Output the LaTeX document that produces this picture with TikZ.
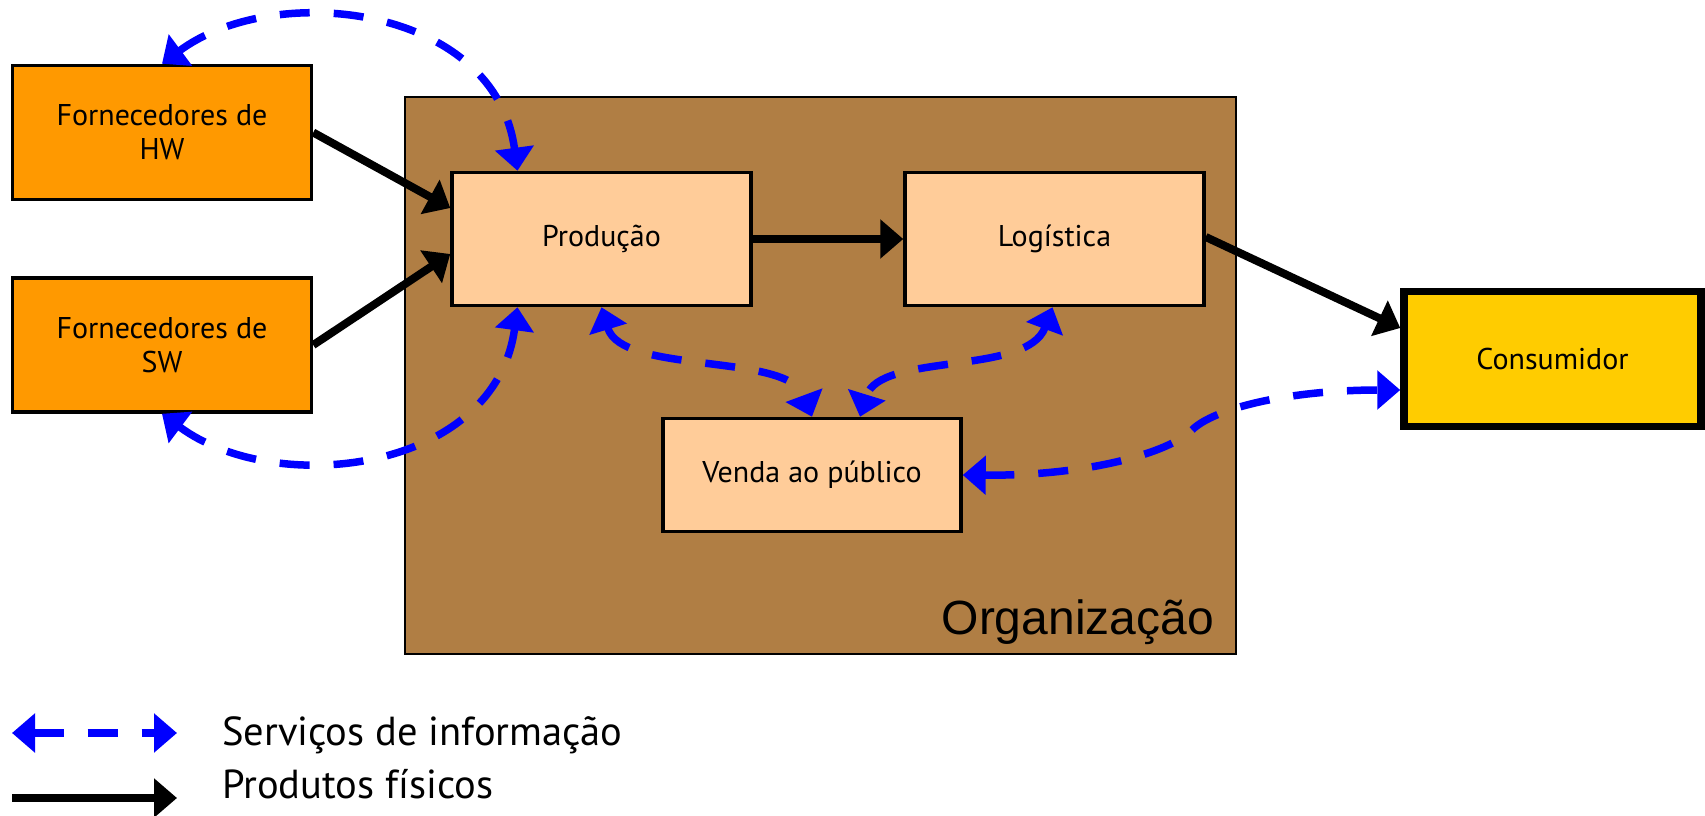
\documentclass[tikz,border=0pt]{standalone}
\usepackage{fontspec}
\setmainfont{PT Sans}
\newfontfamily\orgfont{Liberation Sans}
\usetikzlibrary{arrows.meta,calc}
\definecolor{hwor}{HTML}{FF9900}
\definecolor{orgbr}{HTML}{B07E44}
\definecolor{peach}{HTML}{FFCC99}
\definecolor{consy}{HTML}{FFCC00}
\definecolor{infoblue}{HTML}{0000FF}
\tikzset{
  box/.style={draw=black, line width=3.5pt, inner sep=0pt, align=center,
    font=\fontsize{30}{34}\selectfont},
  supbox/.style={box, fill=hwor, minimum width=299pt, minimum height=134pt},
  unitbox/.style={box, fill=peach, minimum width=299pt, minimum height=133pt},
  phys/.style={draw=black, line width=8pt, -{Triangle[length=23pt,width=38pt]}},
  info/.style={draw=infoblue, line width=7.5pt, dash pattern=on 30pt off 24pt,
    {Triangle[length=23pt,width=38pt]}-{Triangle[length=23pt,width=38pt]}},
  legtext/.style={anchor=base west, inner sep=0pt, font=\fontsize{40.5}{46}\selectfont},
}
\begin{document}
\begin{tikzpicture}[x=1pt,y=-1pt]
\useasboundingbox (0,0) rectangle (1705,816);
\fill[white] (0,0) rectangle (1705,816);

% organisation frame
\node[draw=black, line width=2pt, fill=orgbr, inner sep=0pt,
  minimum width=831pt, minimum height=557pt] (org) at (820.5,375.5) {};
\node[anchor=base east, inner sep=0pt, font=\orgfont\fontsize{48}{54}\selectfont]
  (orglabel) at (1214,634) {Organização};

% boxes
\node[supbox] (hw) at (162,132.5) {Fornecedores de\\HW};
\node[supbox] (sw) at (162,345) {Fornecedores de\\SW};
\node[unitbox] (prod) at (601.5,239) {Produção};
\node[unitbox] (log) at (1054.5,239) {Logística};
\node[unitbox, minimum height=113pt, minimum width=298pt] (venda) at (812,475) {Venda ao público};
\node[box, fill=consy, line width=7.5pt, minimum width=297pt, minimum height=135pt]
  (cons) at (1552.5,359) {Consumidor};

% physical products
\draw[phys] (hw.east) -- ($(prod.west)+(0,-31)$);
\draw[phys] (sw.east) -- ($(prod.west)+(0,15)$);
\draw[phys] (prod.east) -- (log.west);
\draw[phys] ($(log.east)+(0,-2)$) -- ($(cons.west)+(0,-31)$);

% information services
\draw[info] (hw.north) .. controls (275,-20) and (495,5) .. ($(prod.north)+(-84,0)$);
\draw[info] (sw.south) .. controls (275,498) and (495,473) .. ($(prod.south)+(-84,0)$);
\draw[info] (prod.south) .. controls (622,375) and (788,352) .. (venda.north);
\draw[info] ($(log.south)+(-2,0)$) .. controls (1027,376) and (880,352) .. ($(venda.north)+(48,0)$);
\draw[info] (venda.east) .. controls (1090,476) and (1170,452) .. (1192,430)
  .. controls (1214,408) and (1290,390) .. ($(cons.west)+(0,31)$);

% legend
\coordinate (la) at (12,733);
\coordinate (lb) at (177,733);
\coordinate (pa) at (12,798);
\coordinate (pb) at (177,798);
\draw[info] (la) -- (lb);
\draw[phys] (pa) -- (pb);
\node[legtext] (legi) at (222,745) {Serviços de informação};
\node[legtext] (legp) at (222,798) {Produtos físicos};
\end{tikzpicture}
\end{document}
